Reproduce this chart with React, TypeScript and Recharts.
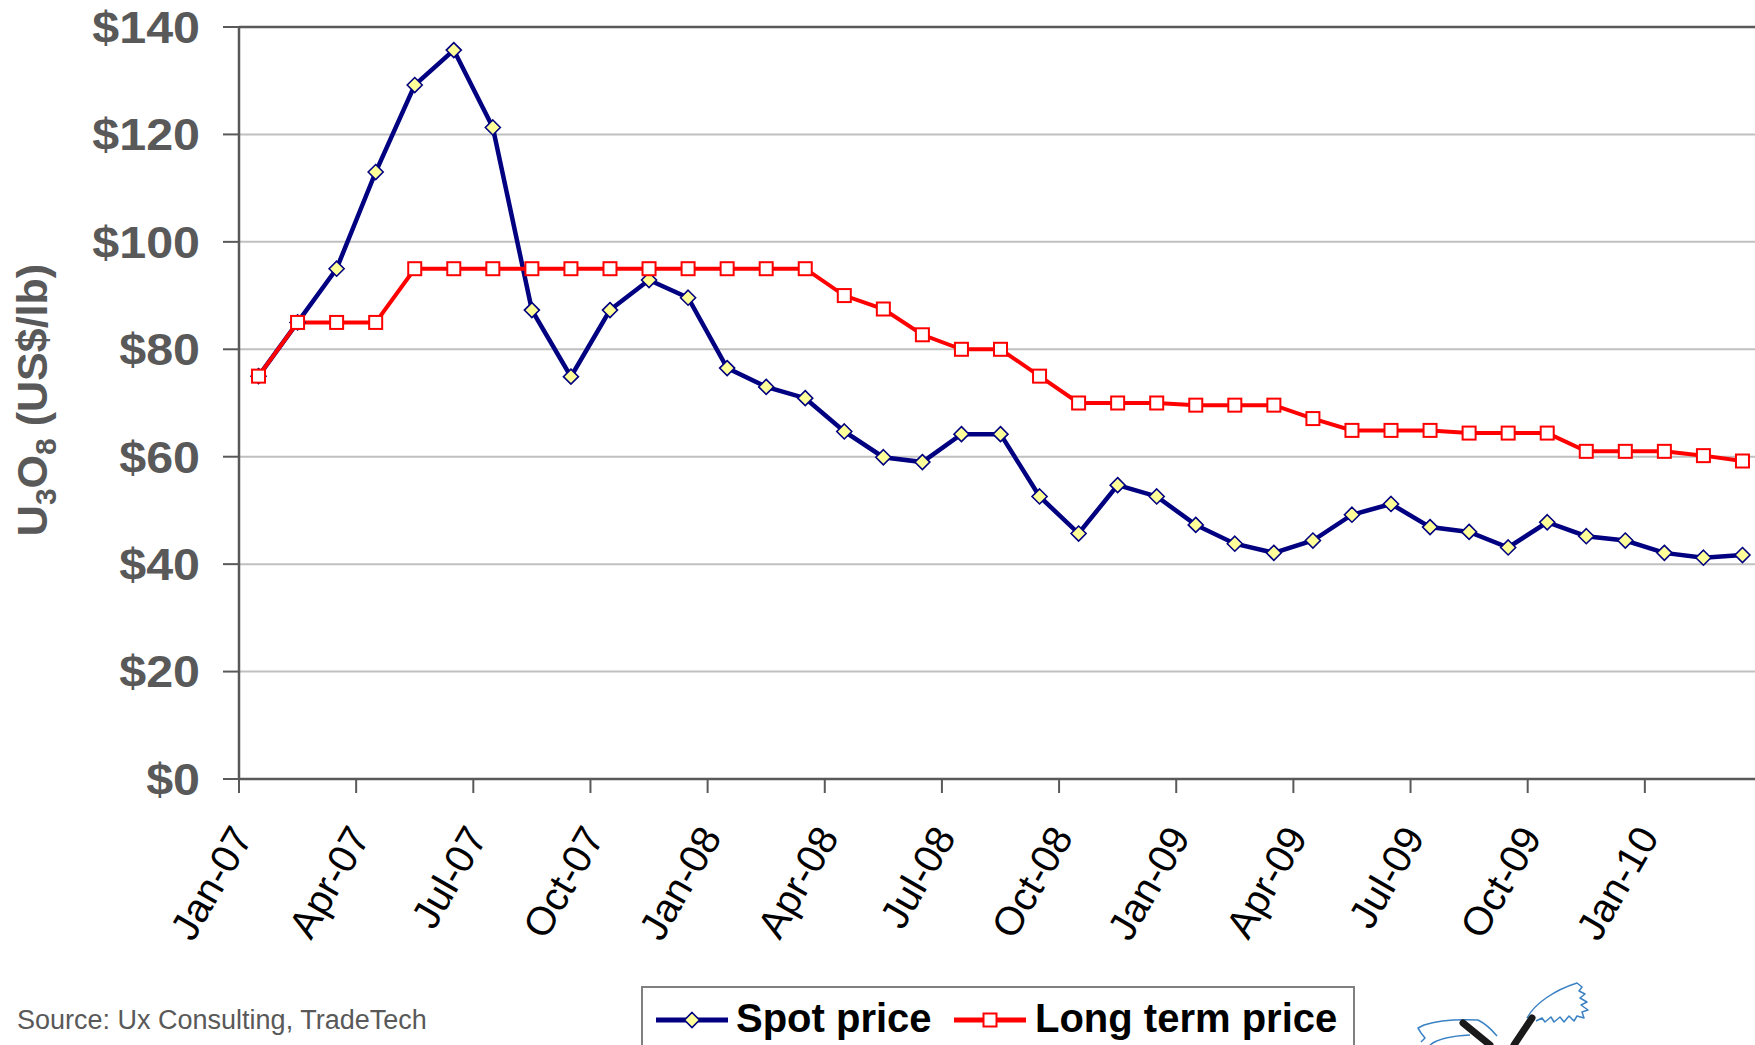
import React from 'react';
import { LineChart, Line, XAxis, YAxis, CartesianGrid, ReferenceLine } from 'recharts';

const FONT = '"Liberation Sans", Arial, Helvetica, sans-serif';

// monthly points, Jan-07 .. Mar-10
const months = [
  'Jan-07', 'Feb-07', 'Mar-07', 'Apr-07', 'May-07', 'Jun-07', 'Jul-07', 'Aug-07', 'Sep-07', 'Oct-07', 'Nov-07', 'Dec-07',
  'Jan-08', 'Feb-08', 'Mar-08', 'Apr-08', 'May-08', 'Jun-08', 'Jul-08', 'Aug-08', 'Sep-08', 'Oct-08', 'Nov-08', 'Dec-08',
  'Jan-09', 'Feb-09', 'Mar-09', 'Apr-09', 'May-09', 'Jun-09', 'Jul-09', 'Aug-09', 'Sep-09', 'Oct-09', 'Nov-09', 'Dec-09',
  'Jan-10', 'Feb-10', 'Mar-10',
];

const spotPrice = [
  75, 85, 95, 113, 129.2, 135.7, 121.3, 87.3, 74.9, 87.3, 92.9, 89.6,
  76.5, 73, 70.9, 64.7, 59.9, 59, 64.2, 64.2, 52.6, 45.7, 54.7, 52.6,
  47.3, 43.8, 42.1, 44.4, 49.2, 51.2, 46.9, 46, 43.1, 47.8, 45.2, 44.4,
  42.1, 41.2, 41.7,
];

const longTermPrice = [
  75, 85, 85, 85, 95, 95, 95, 95, 95, 95, 95, 95,
  95, 95, 95, 90, 87.5, 82.7, 80, 80, 75, 70, 70, 70,
  69.6, 69.6, 69.6, 67.1, 64.9, 64.9, 64.9, 64.4, 64.4, 64.4, 61, 61,
  61, 60.2, 59.2,
];

const yTicks = [0, 20, 40, 60, 80, 100, 120, 140];
const xTickLabels = [
  'Jan-07', 'Apr-07', 'Jul-07', 'Oct-07', 'Jan-08', 'Apr-08', 'Jul-08',
  'Oct-08', 'Jan-09', 'Apr-09', 'Jul-09', 'Oct-09', 'Jan-10',
];

const data = months.map((m, i) => ({ i, month: m, spot: spotPrice[i], longTerm: longTermPrice[i] }));
// ticks sit on the boundary before each quarter's first month
const xTicks = xTickLabels.map((_, k) => k * 3 - 0.5);

function YTick({ x, y, payload }: any) {
  return (
    <text
      transform={`translate(${x},${y}) scale(1.1,1)`}
      textAnchor="end"
      dy="0.36em"
      fontSize={44}
      fontWeight="bold"
      fill="#595959"
      fontFamily={FONT}
    >
      {'$' + payload.value}
    </text>
  );
}

function XTick({ x, y, payload }: any) {
  const k = Math.round((payload.value + 0.5) / 3);
  return (
    <g transform={`translate(${x + 15},${y + 44})`}>
      <text textAnchor="end" transform="rotate(-60)" fontSize={40} fill="#000" fontFamily={FONT}>
        {xTickLabels[k]}
      </text>
    </g>
  );
}

function DiamondDot({ cx, cy, index }: any) {
  if (cx == null || cy == null) return <g key={`d-${index}`} />;
  const r = 7.5;
  return (
    <path
      key={`d-${index}`}
      d={`M${cx},${cy - r} L${cx + r},${cy} L${cx},${cy + r} L${cx - r},${cy} Z`}
      fill="#ffff99"
      stroke="#000080"
      strokeWidth={1.6}
    />
  );
}

function SquareDot({ cx, cy, index }: any) {
  if (cx == null || cy == null) return <g key={`q-${index}`} />;
  const h = 6.5;
  return (
    <rect key={`q-${index}`} x={cx - h} y={cy - h} width={h * 2} height={h * 2} fill="#fff" stroke="#ff0000" strokeWidth={2} />
  );
}

function Overlay() {
  return (
    <svg width={1755} height={1045} style={{ position: 'absolute', left: 0, top: 0, pointerEvents: 'none' }}>
      {/* y axis title */}
      <text
        transform="translate(47,400) rotate(-90)"
        textAnchor="middle"
        fontSize={43}
        fontWeight="bold"
        fill="#595959"
        fontFamily={FONT}
      >
        U<tspan fontSize={30} dy={9}>3</tspan>
        <tspan dy={-9}>O</tspan>
        <tspan fontSize={30} dy={9}>8</tspan>
        <tspan dy={-9}> (US$/lb)</tspan>
      </text>

      <text x={17} y={1029} fontSize={27} fill="#595959" fontFamily={FONT}>
        Source: Ux Consulting, TradeTech
      </text>

      {/* legend */}
      <rect x={642} y={987} width={712} height={80} fill="#fff" stroke="#808080" strokeWidth={2} />
      <line x1={656} y1={1020} x2={728} y2={1020} stroke="#000080" strokeWidth={5} />
      <DiamondDot cx={692} cy={1020} index={0} />
      <text x={736} y={1032} fontSize={40} fontWeight="bold" fill="#000" fontFamily={FONT}>Spot price</text>
      <line x1={954} y1={1020} x2={1026} y2={1020} stroke="#ff0000" strokeWidth={5} />
      <SquareDot cx={990} cy={1020} index={0} />
      <text x={1035} y={1032} fontSize={40} fontWeight="bold" fill="#000" fontFamily={FONT}>Long term price</text>

      {/* bird logo sketch */}
      <g fill="none" stroke="#3b82c4" strokeWidth={1.5} strokeLinejoin="round">
        <path d="M1527,1018 C1535,1003 1555,990 1577,983 L1582,987 L1579,991 L1585,994 L1580,998 L1587,1002 L1581,1005 L1588,1010 L1582,1012 L1584,1018 L1577,1016 L1574,1021 L1569,1016 L1564,1022 L1560,1017 L1554,1022 L1551,1017 L1545,1022 L1542,1018 L1536,1021" />
        <path d="M1421,1033 L1418,1028 L1424,1025 C1436,1021 1456,1019 1478,1020 C1486,1024 1492,1030 1497,1036" />
        <path d="M1421,1033 L1425,1038 L1421,1042" />
        <path d="M1430,1045 C1436,1040 1450,1036 1470,1035" />
      </g>
      <g stroke="#1a1a1a" strokeWidth={7} strokeLinecap="round">
        <line x1={1463} y1={1023} x2={1490} y2={1045} />
        <line x1={1532} y1={1018} x2={1514} y2={1045} />
      </g>
    </svg>
  );
}

export default function App() {
  return (
    <div style={{ position: 'absolute', left: 0, top: 0, width: 1755, height: 1045, overflow: 'hidden', background: '#fff' }}>
      <LineChart width={1762} height={1045} data={data} margin={{ top: 27, right: 0, bottom: 0, left: 0 }}>
        <CartesianGrid vertical={false} stroke="#c0c0c0" strokeWidth={2} />
        <ReferenceLine y={140} stroke="#595959" strokeWidth={2.5} />
        <XAxis
          dataKey="i"
          type="number"
          domain={[-0.5, 38.5]}
          ticks={xTicks}
          interval={0}
          allowDataOverflow
          height={266}
          tickSize={14}
          tickMargin={0}
          tick={<XTick />}
          axisLine={{ stroke: '#595959', strokeWidth: 2.5 }}
          tickLine={{ stroke: '#595959', strokeWidth: 2 }}
        />
        <YAxis
          type="number"
          domain={[0, 140]}
          ticks={yTicks}
          interval={0}
          width={239}
          tickSize={16}
          tickMargin={23}
          tick={<YTick />}
          axisLine={{ stroke: '#595959', strokeWidth: 2.5 }}
          tickLine={{ stroke: '#595959', strokeWidth: 2 }}
        />
        <Line
          dataKey="spot"
          stroke="#000080"
          strokeWidth={4.5}
          dot={(p: any) => <DiamondDot key={`s-${p.index}`} {...p} />}
          activeDot={false}
          isAnimationActive={false}
        />
        <Line
          dataKey="longTerm"
          stroke="#ff0000"
          strokeWidth={4}
          dot={(p: any) => <SquareDot key={`l-${p.index}`} {...p} />}
          activeDot={false}
          isAnimationActive={false}
        />
      </LineChart>
      <Overlay />
    </div>
  );
}
